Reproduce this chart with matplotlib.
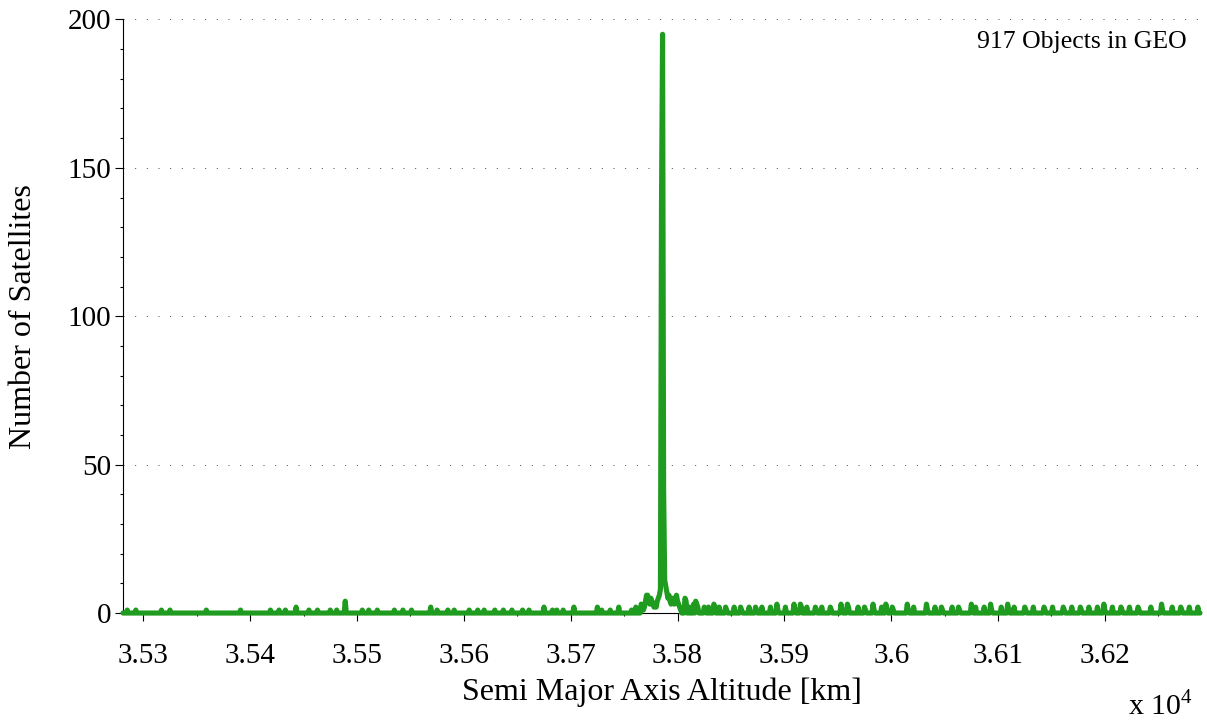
import numpy as np
import matplotlib
matplotlib.use("Agg")
import matplotlib.pyplot as plt
from matplotlib.ticker import FixedLocator, MultipleLocator

plt.rcParams["font.family"] = ["Liberation Serif", "DejaVu Serif"]
plt.rcParams["mathtext.fontset"] = "custom"
plt.rcParams["mathtext.rm"] = "Liberation Serif"

# Histogram of GEO semi-major axis altitudes (1 km bins, occupied bins only)
alt_first_km = 35281
alt_last_km = 36289

occupied_alt_km = [
    # below the GEO belt
    35285, 35293, 35317, 35325, 35359, 35391, 35419, 35427, 35433, 35443,
    35455, 35463, 35475, 35481, 35489, 35505, 35511, 35519, 35535, 35543,
    35551, 35569, 35575, 35585, 35591, 35605, 35613, 35619, 35629, 35637,
    35645, 35655, 35661, 35675, 35683, 35687, 35693, 35703, 35725, 35729,
    35737, 35745, 35757, 35761,
    # the GEO belt itself
    35766, 35767, 35768, 35769, 35770, 35771, 35772, 35773, 35774, 35775,
    35776, 35777, 35778, 35779, 35780, 35781, 35782, 35783, 35784, 35785,
    35786, 35787, 35788, 35789, 35790, 35791, 35792, 35793, 35794, 35795,
    35796, 35797, 35798, 35799, 35800, 35801, 35802, 35803,
    35807, 35808, 35811, 35815, 35817, 35818, 35819,
    # above the GEO belt
    35825, 35826, 35829, 35834, 35835, 35839, 35845, 35846, 35853, 35859,
    35860, 35867, 35873, 35874, 35879, 35887, 35893, 35894, 35901, 35909,
    35910, 35915, 35916, 35921, 35929, 35930, 35935, 35943, 35944, 35953,
    35954, 35959, 35960, 35969, 35975, 35976, 35983, 35984, 35991, 35995,
    35996, 36001, 36002, 36015, 36016, 36021, 36033, 36034, 36041, 36047,
    36048, 36057, 36063, 36064, 36075, 36076, 36079, 36087, 36093, 36094,
    36103, 36109, 36110, 36115, 36125, 36126, 36133, 36143, 36144, 36151,
    36161, 36162, 36169, 36177, 36178, 36185, 36193, 36199, 36200, 36207,
    36215, 36216, 36223, 36231, 36232, 36243, 36253, 36254, 36263, 36271,
    36272, 36279, 36287,
]
occupied_count = [
    1, 1, 1, 1, 1, 1, 1, 1, 1, 2,
    1, 1, 1, 1, 4, 1, 1, 1, 1, 1,
    1, 2, 1, 1, 1, 1, 1, 1, 1, 1,
    1, 1, 1, 2, 1, 1, 1, 2, 2, 1,
    1, 2, 1, 2,
    3, 2, 1, 2, 4, 6, 6, 4, 3, 5,
    4, 3, 2, 3, 2, 4, 5, 6, 8, 138,
    195, 41, 11, 9, 7, 5, 6, 4, 3, 5,
    4, 3, 5, 6, 4, 3, 2, 1,
    5, 4, 2, 3, 4, 3, 2,
    2, 1, 2, 3, 2, 2, 2, 1, 2, 2,
    1, 2, 2, 1, 2, 2, 3, 1, 2, 3,
    1, 3, 2, 2, 2, 1, 2, 2, 1, 3,
    1, 3, 2, 2, 2, 1, 3, 1, 2, 3,
    1, 2, 1, 3, 1, 2, 3, 1, 2, 2,
    1, 2, 2, 1, 3, 1, 2, 2, 3, 1,
    2, 3, 1, 2, 2, 1, 2, 2, 1, 2,
    2, 1, 2, 2, 1, 2, 2, 3, 1, 2,
    2, 1, 2, 2, 1, 2, 3, 1, 2, 2,
    1, 2, 2,
]

x_major_ticks = [35300, 35400, 35500, 35600, 35700, 35800, 35900, 36000, 36100, 36200]
x_tick_labels = ["3.53", "3.54", "3.55", "3.56", "3.57", "3.58", "3.59", "3.6", "3.61", "3.62"]
y_major_ticks = [0, 50, 100, 150, 200]
y_tick_labels = ["0", "50", "100", "150", "200"]
annotation = "917 Objects in GEO"

# Expand to a full histogram on the 1 km bin grid
bin_centers = np.arange(alt_first_km, alt_last_km + 1)
counts = np.zeros(bin_centers.size)
counts[np.searchsorted(bin_centers, occupied_alt_km)] = occupied_count

fig = plt.figure(figsize=(12.07, 7.23), dpi=100)
ax = fig.add_axes([0.1019, 0.1521, 0.8923, 0.8210])

green = "#1f9b1f"
ax.plot(bin_centers, counts, color=green, lw=3.7, solid_joinstyle="round",
        solid_capstyle="round", zorder=3, clip_on=False)

ax.set_xlim(alt_first_km, alt_last_km)
ax.set_ylim(0, 200)

ax.xaxis.set_major_locator(FixedLocator(x_major_ticks))
ax.set_xticklabels(x_tick_labels)
ax.xaxis.set_minor_locator(MultipleLocator(50))
ax.yaxis.set_major_locator(FixedLocator(y_major_ticks))
ax.set_yticklabels(y_tick_labels)
ax.yaxis.set_minor_locator(MultipleLocator(10))

ax.tick_params(axis="both", which="major", direction="out", length=5.5, width=0.8,
               labelsize=21, color="black")
ax.tick_params(axis="both", which="minor", direction="out", length=2.5, width=0.8,
               color="black")
ax.tick_params(axis="x", which="major", pad=16)
ax.tick_params(axis="y", which="major", pad=3)

for side in ("top", "right"):
    ax.spines[side].set_visible(False)
for side in ("left", "bottom"):
    ax.spines[side].set_linewidth(0.8)

ax.yaxis.grid(True, which="major", color="#444444", lw=0.7, linestyle=(0, (1, 11)))
ax.set_axisbelow(True)

ax.set_xlabel("Semi Major Axis Altitude [km]", fontsize=23, labelpad=6)
ax.set_ylabel("Number of Satellites", fontsize=23, labelpad=21)

ax.text(0.988, 0.952, annotation, transform=ax.transAxes, ha="right",
        va="baseline", fontsize=18.5)
fig.text(0.9885, 0.003, r"x 10$^{4}$", ha="right", va="bottom", fontsize=21.5)

fig.savefig("out.png", dpi=100, facecolor="white")
